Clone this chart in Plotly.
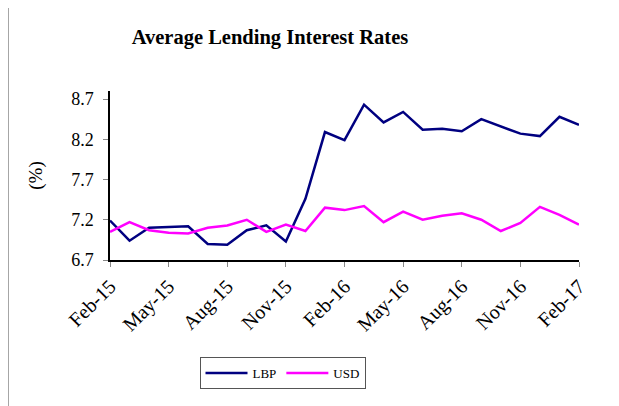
import plotly.graph_objects as go

months = ["Feb-15","Mar-15","Apr-15","May-15","Jun-15","Jul-15","Aug-15","Sep-15","Oct-15",
          "Nov-15","Dec-15","Jan-16","Feb-16","Mar-16","Apr-16","May-16","Jun-16","Jul-16",
          "Aug-16","Sep-16","Oct-16","Nov-16","Dec-16","Jan-17","Feb-17"]
lbp = [7.19, 6.94, 7.10, 7.11, 7.12, 6.90, 6.89, 7.07, 7.13, 6.93, 7.46, 8.29, 8.19,
       8.63, 8.41, 8.54, 8.32, 8.33, 8.30, 8.45, 8.36, 8.27, 8.24, 8.48, 8.38]
usd = [7.05, 7.17, 7.07, 7.04, 7.03, 7.10, 7.13, 7.20, 7.05, 7.14, 7.06, 7.35, 7.32,
       7.37, 7.17, 7.30, 7.20, 7.25, 7.28, 7.20, 7.06, 7.16, 7.36, 7.26, 7.14]
tick_labels = months[::3]
y_ticks = [6.7, 7.2, 7.7, 8.2, 8.7]

font = "Liberation Serif, Times New Roman, serif"

fig = go.Figure()
fig.add_trace(go.Scatter(x=months, y=lbp, name="LBP", mode="lines",
                         line=dict(color="#000080", width=2.5)))
fig.add_trace(go.Scatter(x=months, y=usd, name="USD", mode="lines",
                         line=dict(color="#FF00FF", width=2.5)))

# page has an 8px body margin, so the figure is offset by 8px
W, H = 611, 398
l, r, t, b = 102, 40, 83, 146
pw, ph = W - l - r, H - t - b

fig.update_layout(
    width=W, height=H,
    margin=dict(l=l, r=r, t=t, b=b),
    paper_bgcolor="white", plot_bgcolor="white",
    font=dict(family=font, size=18, color="black"),
    title=dict(text="<b>Average Lending Interest Rates</b>", x=262 / W, xanchor="center",
               y=1 - 29 / H, yanchor="middle", font=dict(family=font, size=20.5)),
    showlegend=True,
    legend=dict(orientation="h", x=(274.5 - l) / pw, xanchor="center",
                y=(H - b - 349) / ph, yanchor="top", itemwidth=42,
                bordercolor="#555555", borderwidth=1, font=dict(family=font, size=13),
                bgcolor="white"),
    xaxis=dict(type="category", range=[0, len(months) - 1],
               tickmode="array", tickvals=tick_labels, ticktext=tick_labels,
               tickangle=-45, ticks="outside", ticklen=5, tickcolor="#888888",
               showline=True, linecolor="black", linewidth=1.5, showgrid=False,
               zeroline=False, tickfont=dict(family=font, size=20)),
    yaxis=dict(range=[6.7, 8.8], tickmode="array", tickvals=y_ticks,
               ticktext=[f"{v:.1f}" for v in y_ticks],
               ticks="outside", ticklen=5, tickcolor="#888888", ticklabelstandoff=6,
               showline=True, linecolor="black", linewidth=1.5, showgrid=False,
               zeroline=False, tickfont=dict(family=font, size=18),
               title=dict(text="(%)", font=dict(family=font, size=19), standoff=24)),
    shapes=[dict(type="line", xref="paper", yref="paper",
                 x0=-l / pw, x1=-l / pw, y0=-b / ph, y1=1 + t / ph,
                 line=dict(color="#888888", width=1.5))],
)

fig.write_html("out.html")
